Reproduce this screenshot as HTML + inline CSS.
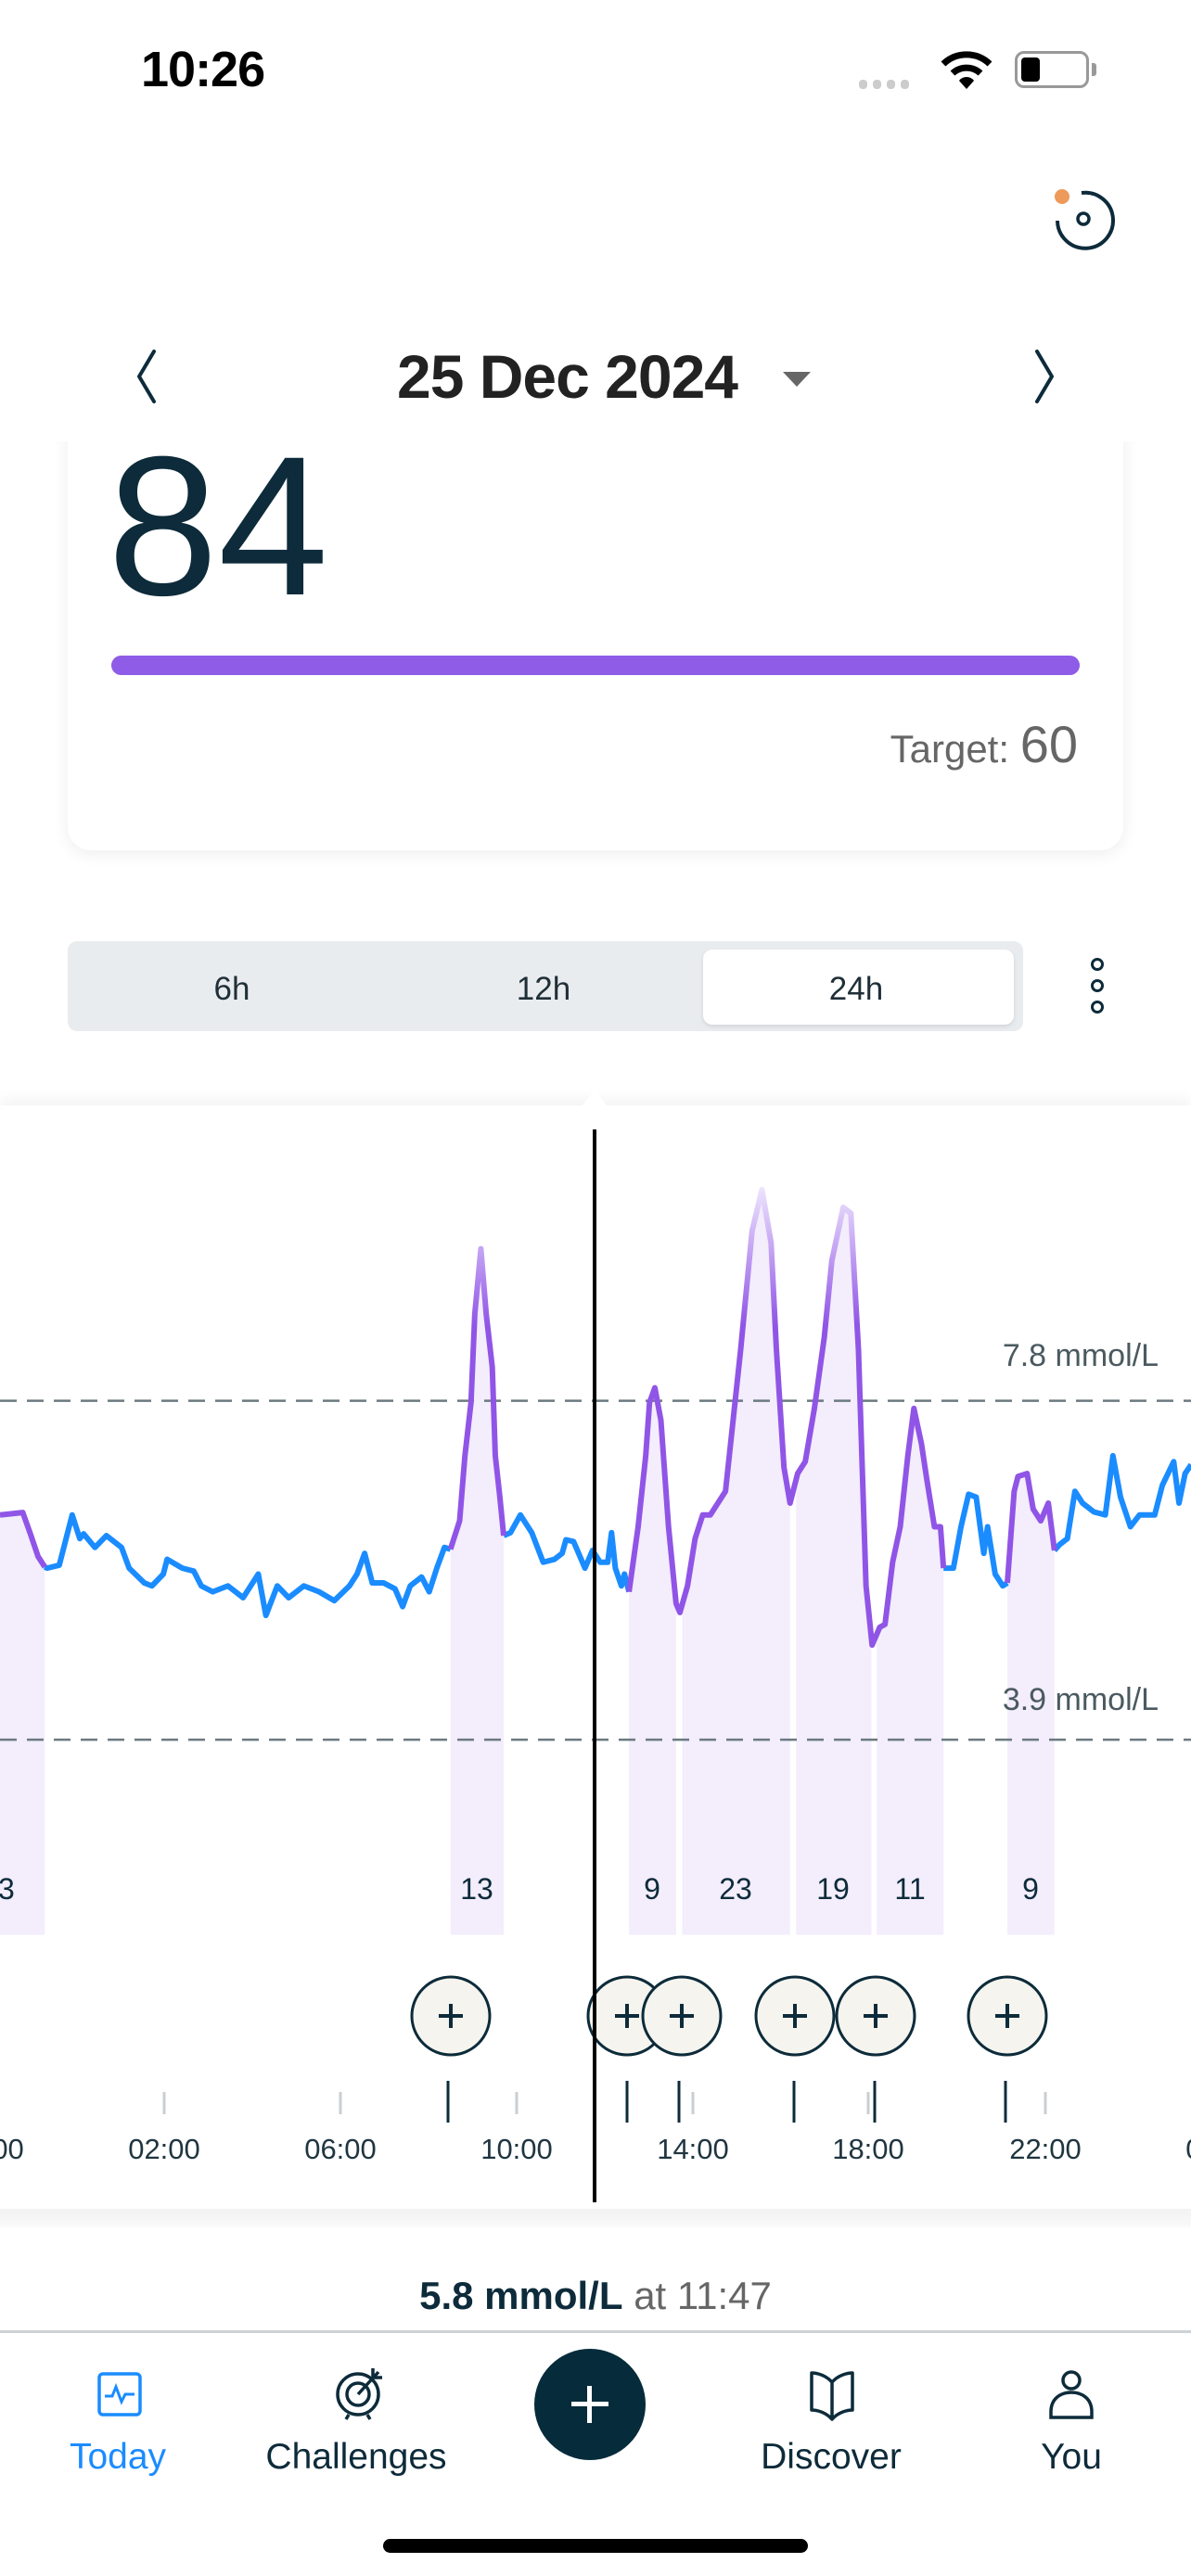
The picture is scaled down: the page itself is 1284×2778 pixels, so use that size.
<!DOCTYPE html>
<html><head><meta charset="utf-8">
<style>
*{margin:0;padding:0;box-sizing:border-box}
html,body{width:1284px;height:2778px;background:#fff;overflow:hidden;font-family:"Liberation Sans",sans-serif;position:relative}
.a{position:absolute}
</style></head><body>
<!-- card -->
<div class="a" style="left:73px;top:440px;width:1138px;height:477px;background:#fff;border-radius:25px;box-shadow:0 4px 18px rgba(0,0,0,0.07)"></div>
<!-- header -->
<div class="a" style="left:0;top:0;width:1284px;height:476px;background:#fff"></div>
<div class="a" style="left:152px;top:44px;font-size:54px;font-weight:bold;color:#000;letter-spacing:-1px">10:26</div>
<div class="a" style="left:926px;top:86px;width:66px;height:10px">
 <span class="a" style="left:0;width:9px;height:10px;border-radius:4px;background:#ccc"></span>
 <span class="a" style="left:15px;width:9px;height:10px;border-radius:4px;background:#ccc"></span>
 <span class="a" style="left:30px;width:9px;height:10px;border-radius:4px;background:#ccc"></span>
 <span class="a" style="left:45px;width:9px;height:10px;border-radius:4px;background:#ccc"></span>
</div>
<svg class="a" style="left:1012px;top:52px" width="60" height="46" viewBox="0 0 60 46"><g fill="none" stroke="#000" stroke-width="7"><path d="M5 17 A36 36 0 0 1 55 17"/><path d="M15 27 A22 22 0 0 1 45 27"/></g><path d="M30 44 L22 35 A10 10 0 0 1 38 35Z" fill="#000"/></svg>
<div class="a" style="left:1094px;top:55px;width:80px;height:40px;border:3px solid #999;border-radius:10px"></div>
<div class="a" style="left:1101px;top:62px;width:20px;height:26px;background:#000;border-radius:4px"></div>
<div class="a" style="left:1177px;top:68px;width:5px;height:14px;background:#999;border-radius:0 3px 3px 0"></div>
<svg class="a" style="left:1130px;top:198px" width="80" height="80" viewBox="0 0 80 80"><path d="M36 10 A30 30 0 1 1 10 40" fill="none" stroke="#0d2b3a" stroke-width="4"/><circle cx="38" cy="38" r="6" fill="none" stroke="#0d2b3a" stroke-width="3.5"/><circle cx="15" cy="14" r="8" fill="#ee9a5a"/></svg>
<svg class="a" style="left:138px;top:375px" width="40" height="62" viewBox="0 0 40 62"><path d="M28 4 L12 31 L28 58" fill="none" stroke="#0d2b3a" stroke-width="4" stroke-linecap="round" stroke-linejoin="round"/></svg>
<svg class="a" style="left:1106px;top:375px" width="40" height="62" viewBox="0 0 40 62"><path d="M12 4 L28 31 L12 58" fill="none" stroke="#0d2b3a" stroke-width="4" stroke-linecap="round" stroke-linejoin="round"/></svg>
<div class="a" style="left:428px;top:368px;font-size:66px;font-weight:bold;color:#222;letter-spacing:-1px;line-height:76px">25 Dec 2024</div>
<svg class="a" style="left:844px;top:401px" width="32" height="18"><path d="M0 0 L30 0 L15 16Z" fill="#666"/></svg>
<!-- card content -->
<div class="a" style="left:116px;top:468px;font-size:214px;color:#0d2b3a;line-height:200px;letter-spacing:0px">84</div>
<div class="a" style="left:120px;top:707px;width:1044px;height:21px;background:#8e5ce6;border-radius:11px"></div>
<div class="a" style="right:122px;top:770px;color:#666;white-space:nowrap"><span style="font-size:42px">Target: </span><span style="font-size:56px">60</span></div>
<!-- segmented -->
<div class="a" style="left:73px;top:1015px;width:1030px;height:97px;background:#e9ecee;border-radius:10px"></div>
<div class="a" style="left:758px;top:1024px;width:335px;height:81px;background:#fff;border-radius:10px;box-shadow:0 2px 5px rgba(0,0,0,.1)"></div>
<div class="a" style="left:200px;top:1047px;width:100px;text-align:center;font-size:35px;color:#1f2f38">6h</div>
<div class="a" style="left:536px;top:1047px;width:100px;text-align:center;font-size:35px;color:#1f2f38">12h</div>
<div class="a" style="left:873px;top:1047px;width:100px;text-align:center;font-size:35px;color:#1f2f38">24h</div>
<div class="a" style="left:1176px;top:1033px;width:14px;height:14px;border:3px solid #0d2b3a;border-radius:50%"></div>
<div class="a" style="left:1176px;top:1056px;width:14px;height:14px;border:3px solid #0d2b3a;border-radius:50%"></div>
<div class="a" style="left:1176px;top:1079px;width:14px;height:14px;border:3px solid #0d2b3a;border-radius:50%"></div>
<!-- chart panel -->
<div class="a" style="left:0;top:1192px;width:1284px;height:1190px;background:#fff;box-shadow:0 -6px 14px rgba(0,0,0,0.05)"></div>
<div class="a" style="left:0;top:2382px;width:1284px;height:20px;background:linear-gradient(#f2f2f2,#fafafa)"></div>
<svg class="a" style="left:0;top:1170px" width="1284" height="1240" viewBox="0 1170 1284 1240">
 <defs><linearGradient id="pg" gradientUnits="userSpaceOnUse" x1="0" y1="120" x2="0" y2="360"><stop offset="0" stop-color="#f0e8fd"/><stop offset="1" stop-color="#9055e6"/></linearGradient></defs>
 <path d="M628 1192 L641 1175 L654 1192Z" fill="#fff"/>
 <path d="M626 2382 L641 2365 L656 2382Z" fill="#fff"/>
 <g transform="translate(0,1200) scale(0.819,0.6378)">
  <g fill="#f3edfc">
   <polygon points="0,680 30,676 40,712 50,750 59,768 59,1390 0,1390"/>
   <polygon points="593,738 605,690 612,580 620,490 625,340 633,230 640,340 648,430 652,580 658,650 663,715 663,1390 593,1390"/>
   <polygon points="828,810 840,700 850,580 855,490 862,465 870,520 880,700 890,830 890,1390 828,1390"/>
   <polygon points="898,840 905,800 915,720 925,680 935,680 945,660 955,640 965,520 975,400 990,200 1003,130 1015,220 1022,400 1032,600 1040,660 1040,1390 898,1390"/>
   <polygon points="1048,620 1060,590 1072,500 1085,380 1095,250 1110,160 1120,170 1130,400 1140,800 1147,900 1147,1390 1048,1390"/>
   <polygon points="1154,870 1165,865 1175,760 1185,700 1195,580 1203,500 1213,560 1220,620 1230,700 1238,700 1242,770 1242,1390 1154,1390"/>
   <polygon points="1326,795 1335,640 1340,615 1352,610 1360,670 1370,690 1380,660 1388,740 1388,1390 1326,1390"/>
  </g>
  <line x1="0" y1="487" x2="1568" y2="487" stroke="#6b7a80" stroke-width="2.5" stroke-dasharray="18 11" vector-effect="non-scaling-stroke"/>
  <line x1="0" y1="1060" x2="1568" y2="1060" stroke="#6b7a80" stroke-width="2.5" stroke-dasharray="18 11" vector-effect="non-scaling-stroke"/>
  <g fill="none" stroke-width="6" stroke-linejoin="round">
   <g stroke="#1a8cff">
    <polyline vector-effect="non-scaling-stroke" points="59,768 62,770 78,765 85,730 95,680 105,720 110,712 125,735 140,715 160,735 170,770 190,795 200,800 215,780 220,755 240,770 255,775 265,800 280,810 300,800 320,820 340,780 350,850 365,800 380,820 400,800 420,810 440,825 460,800 470,780 480,745 490,795 505,795 520,805 530,835 540,800 555,785 565,810 575,770 585,735 593,738"/>
    <polyline vector-effect="non-scaling-stroke" points="663,715 672,710 685,680 700,710 715,760 730,755 740,745 745,722 755,725 760,740 770,770 780,740 790,760 800,760 805,710 810,770 818,800 822,780 828,810"/>
    <polyline vector-effect="non-scaling-stroke" points="1242,770 1255,770 1265,700 1275,645 1285,650 1295,745 1300,700 1310,780 1320,800 1326,795"/>
    <polyline vector-effect="non-scaling-stroke" points="1388,740 1395,730 1405,720 1415,640 1425,660 1440,675 1455,680 1465,580 1475,650 1488,700 1500,680 1520,680 1530,630 1545,590 1552,660 1560,610 1568,595"/>
   </g>
   <g stroke="url(#pg)">
    <polyline vector-effect="non-scaling-stroke" points="0,680 30,676 40,712 50,750 59,768"/>
    <polyline vector-effect="non-scaling-stroke" points="593,738 605,690 612,580 620,490 625,340 633,230 640,340 648,430 652,580 658,650 663,715"/>
    <polyline vector-effect="non-scaling-stroke" points="828,810 840,700 850,580 855,490 862,465 870,520 880,700 890,830 895,845 905,800 915,720 925,680 935,680 945,660 955,640 965,520 975,400 990,200 1003,130 1015,220 1022,400 1032,600 1040,660 1050,610 1060,590 1072,500 1085,380 1095,250 1110,160 1120,170 1130,400 1140,800 1148,900 1158,870 1165,865 1175,760 1185,700 1195,580 1203,500 1213,560 1220,620 1230,700 1238,700 1242,770"/>
    <polyline vector-effect="non-scaling-stroke" points="1326,795 1335,640 1340,615 1352,610 1360,670 1370,690 1380,660 1388,740"/>
   </g>
  </g>
 </g>
 <g font-family="Liberation Sans" font-size="34" fill="#4a5a60" text-anchor="end">
  <text x="1249" y="1473">7.8 mmol/L</text>
  <text x="1249" y="1844">3.9 mmol/L</text>
 </g>
 <g font-family="Liberation Sans" font-size="32" fill="#0d2b3a" text-anchor="middle">
  <text x="-2" y="2048">13</text><text x="514" y="2048">13</text><text x="703" y="2048">9</text><text x="793" y="2048">23</text><text x="898" y="2048">19</text><text x="981" y="2048">11</text><text x="1111" y="2048">9</text>
 </g>
 <g stroke="#c9cfd2" stroke-width="3">
  <line x1="177" y1="2256" x2="177" y2="2280"/><line x1="367" y1="2256" x2="367" y2="2280"/><line x1="557" y1="2256" x2="557" y2="2280"/><line x1="747" y1="2256" x2="747" y2="2280"/><line x1="936" y1="2256" x2="936" y2="2280"/><line x1="1127" y1="2256" x2="1127" y2="2280"/>
 </g>
 <g stroke="#0d2b3a" stroke-width="3">
  <line x1="483" y1="2244" x2="483" y2="2289"/><line x1="676" y1="2244" x2="676" y2="2289"/><line x1="732" y1="2244" x2="732" y2="2289"/><line x1="856" y1="2244" x2="856" y2="2289"/><line x1="943" y1="2244" x2="943" y2="2289"/><line x1="1084" y1="2244" x2="1084" y2="2289"/>
 </g>
 <g font-family="Liberation Sans" font-size="31" fill="#1f3540" text-anchor="middle">
  <text x="-13" y="2328">22:00</text><text x="177" y="2328">02:00</text><text x="367" y="2328">06:00</text><text x="557" y="2328">10:00</text><text x="747" y="2328">14:00</text><text x="936" y="2328">18:00</text><text x="1127" y="2328">22:00</text><text x="1317" y="2328">02:00</text>
 </g>
 <g fill="#f5f4ee" stroke="#0d2b3a" stroke-width="3">
  <circle cx="486" cy="2174" r="42"/><circle cx="676" cy="2174" r="42"/><circle cx="735" cy="2174" r="42"/><circle cx="857" cy="2174" r="42"/><circle cx="944" cy="2174" r="42"/><circle cx="1086" cy="2174" r="42"/>
 </g>
 <g stroke="#0d2b3a" stroke-width="4">
  <path d="M473 2174h26M486 2161v26M663 2174h26M676 2161v26M722 2174h26M735 2161v26M844 2174h26M857 2161v26M931 2174h26M944 2161v26M1073 2174h26M1086 2161v26"/>
 </g>
 <line x1="641" y1="1218" x2="641" y2="2375" stroke="#000" stroke-width="4"/>
</svg>
<!-- bottom reading -->
<div class="a" style="left:0;top:2452px;width:1284px;text-align:center;font-size:42px;white-space:nowrap"><b style="color:#0d2b3a">5.8 mmol/L</b> <span style="color:#666">at 11:47</span></div>
<div class="a" style="left:0;top:2513px;width:1284px;height:3px;background:#ccd1d4"></div>
<!-- nav -->
<svg class="a" style="left:105px;top:2558px" width="48" height="48" viewBox="0 0 48 48"><rect x="2" y="2" width="44" height="44" rx="4" fill="none" stroke="#1a8cff" stroke-width="3.5"/><path d="M8 26h8l4-10 6 16 4-8h10" fill="none" stroke="#1a8cff" stroke-width="3"/></svg>
<svg class="a" style="left:360px;top:2550px" width="56" height="60" viewBox="0 0 56 60"><circle cx="26" cy="32" r="22" fill="none" stroke="#0d2b3a" stroke-width="3.5"/><circle cx="26" cy="32" r="12" fill="none" stroke="#0d2b3a" stroke-width="3.5"/><path d="M26 32 L48 8 M42 4 v10 h10" fill="none" stroke="#0d2b3a" stroke-width="3.5"/><path d="M16 54l-3 5M36 54l3 5" stroke="#0d2b3a" stroke-width="3.5"/></svg>
<div class="a" style="left:576px;top:2533px;width:120px;height:120px;border-radius:50%;background:#062b3a"></div>
<div class="a" style="left:616px;top:2590px;width:40px;height:5px;background:#fff"></div>
<div class="a" style="left:633px;top:2573px;width:5px;height:40px;background:#fff"></div>
<svg class="a" style="left:872px;top:2555px" width="50" height="56" viewBox="0 0 50 56"><path d="M25 14 C18 6 8 4 3 4 V44 C8 44 18 46 25 54 C32 46 42 44 47 44 V4 C42 4 32 6 25 14 Z M25 14 V54" fill="none" stroke="#0d2b3a" stroke-width="3.5" stroke-linejoin="round"/></svg>
<svg class="a" style="left:1130px;top:2555px" width="50" height="56" viewBox="0 0 50 56"><circle cx="25" cy="12" r="9" fill="none" stroke="#0d2b3a" stroke-width="3.5"/><path d="M3 52 V46 C3 32 13 25 25 25 C37 25 47 32 47 46 V52 Z" fill="none" stroke="#0d2b3a" stroke-width="3.5"/></svg>
<div class="a" style="left:27px;top:2628px;width:200px;text-align:center;font-size:39px;color:#1a8cff">Today</div>
<div class="a" style="left:234px;top:2628px;width:300px;text-align:center;font-size:39px;color:#0d2b3a">Challenges</div>
<div class="a" style="left:746px;top:2628px;width:300px;text-align:center;font-size:39px;color:#0d2b3a">Discover</div>
<div class="a" style="left:1055px;top:2628px;width:200px;text-align:center;font-size:39px;color:#0d2b3a">You</div>
<div class="a" style="left:413px;top:2738px;width:458px;height:15px;border-radius:8px;background:#000"></div>
</body></html>
